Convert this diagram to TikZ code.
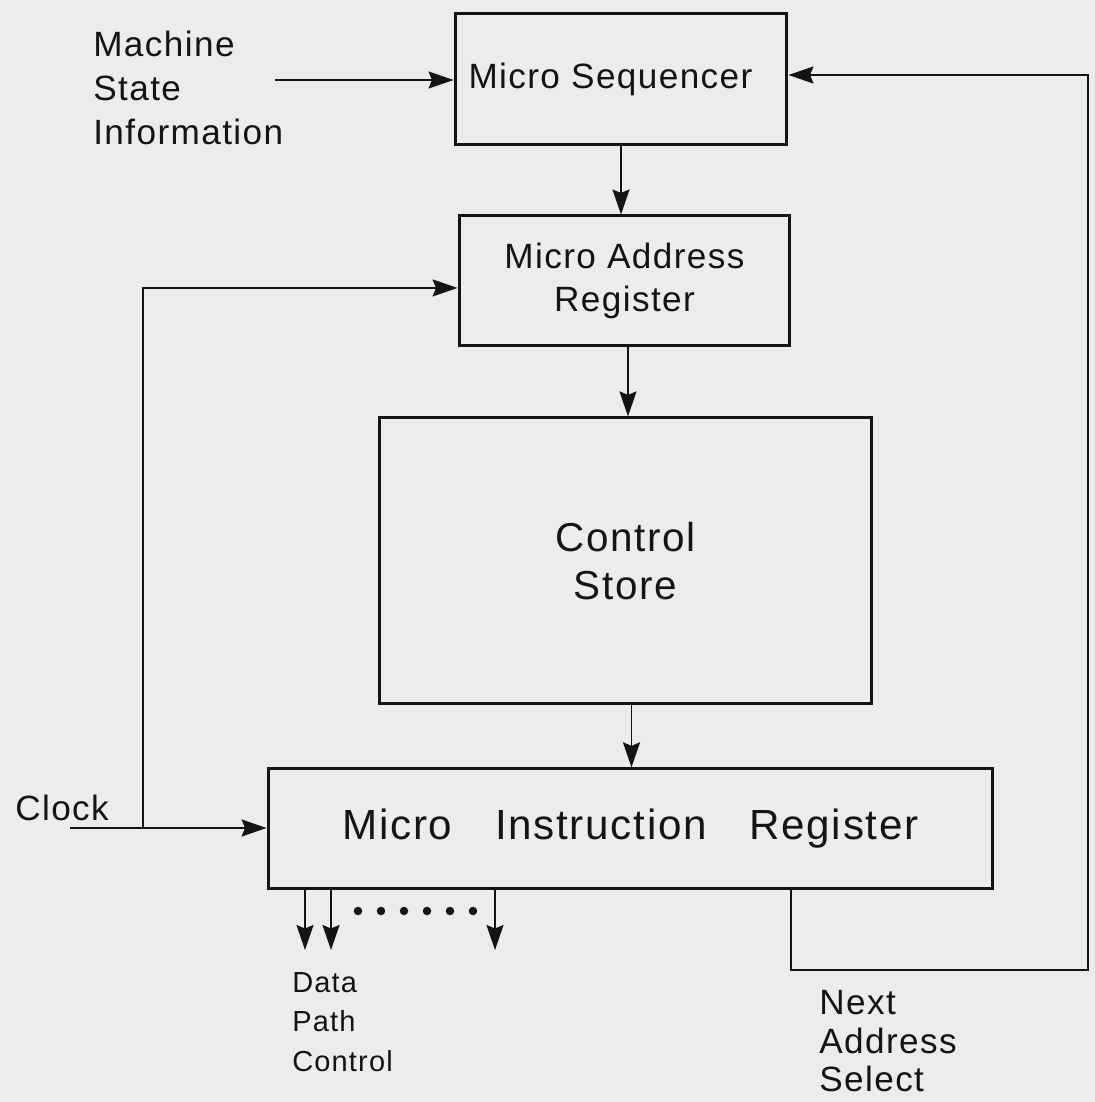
\documentclass[tikz,border=0pt]{standalone}
\usepackage{fontspec}
\setmainfont[LetterSpace=4]{Liberation Sans}
\usetikzlibrary{arrows.meta,positioning,calc}
\definecolor{INK}{RGB}{20,20,20}
\definecolor{PAPER}{RGB}{236,236,234}

\begin{document}
\begin{tikzpicture}[x=0.02cm,y=-0.02cm,>={Stealth[length=5mm,width=3.4mm,inset=0.7mm]},
    font=\fontsize{20}{25}\selectfont,node distance=13.6mm]
    \tikzset{blk/.style={draw=INK,line width=1.7pt,inner sep=0pt,align=center,text=INK},
      wire/.style={INK,line width=1.1pt},
      lbl/.style={inner sep=0pt,align=left,text=INK}}
    \fill[PAPER] (0,0) rectangle (1095,1102);
    \useasboundingbox (0,0) rectangle (1095,1102);
    % the four blocks
    \node[blk,minimum width=6.64cm,minimum height=2.64cm] (seq) at (621,79) {Micro Sequencer\hspace{0.6em}};
    \node[blk,minimum width=6.62cm,minimum height=2.6cm,below=of seq,xshift=0.07cm] (mar) {Micro Address\\Register};
    \node[blk,minimum width=9.86cm,minimum height=5.72cm,below=1.38cm of mar,xshift=0.02cm,
      font=\fontsize{23}{27}\selectfont] (store) {Control\\Store};
    \node[blk,minimum width=14.5cm,minimum height=2.4cm,below=1.24cm of store,xshift=0.1cm,
      font=\fontsize{24}{27}\selectfont] (mir) {Micro\hspace{0.7em} Instruction\hspace{0.7em} Register};
    % outside labels
    \node[lbl,anchor=west] (info) at (93,88) {Machine\\State\\Information};
    \node[lbl,anchor=south west] (clk) at (15,821) {Clock};
    \node[lbl,anchor=north west,font=\fontsize{16.5}{22.5}\selectfont] (dpc) at (292,972) {Data\\Path\\Control};
    \node[lbl,anchor=north west,font=\fontsize{20}{22}\selectfont] (nas) at (819,990) {Next\\Address\\Select};
    % connectors
    \coordinate (infoout) at (275,80);
    \draw[wire,->] (infoout) -- (infoout -| seq.west);
    \draw[wire,->] (seq.south) -- (seq.south |- mar.north);
    \draw[wire,->] ([xshift=0.07cm]mar.south) -- ([xshift=0.07cm]mar.south |- store.north);
    \draw[wire,->] ([xshift=0.12cm]store.south) -- ([xshift=0.12cm]store.south |- mir.north);
    \coordinate (clkin) at (70,828);
    \coordinate (clkbr) at (143,828);
    \draw[wire,->] (clkin) -- (clkin -| mir.west);
    \draw[wire,->] (clkbr) |- ([yshift=-0.14cm]mar.west);
    \coordinate (fbl) at (791,970);
    \coordinate (fbr) at (1088,970);
    \draw[wire,->] (fbl |- mir.south) -- (fbl) -- (fbr) |- ([yshift=0.08cm]seq.east);
    \foreach \x [count=\k] in {305,331,495} {
      \coordinate (dp\k) at (\x,950);
      \draw[wire,->] (dp\k |- mir.south) -- (dp\k);
    }
    \foreach \i in {0,...,5}
      \fill[INK] (358+23*\i,911) circle (0.085cm);
  \end{tikzpicture}
\end{document}
